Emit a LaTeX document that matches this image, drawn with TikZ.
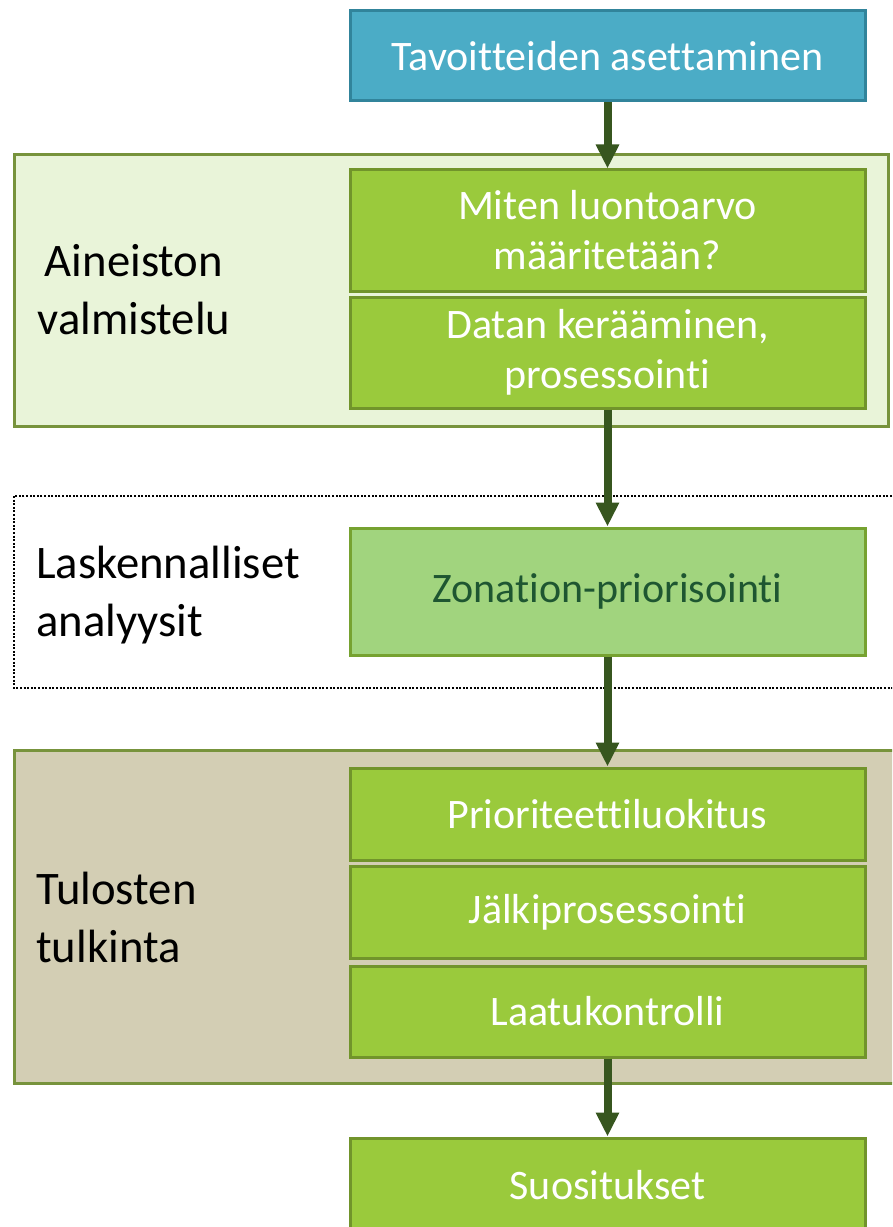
\documentclass[tikz,border=0pt]{standalone}
\usepackage{fontspec}
\setmainfont{Carlito}[RawFeature={-liga;-clig;-dlig;-calt}]
\usepackage{tikz}
\usetikzlibrary{arrows.meta}

\definecolor{goalblue}{RGB}{75,172,198}
\definecolor{goaledge}{RGB}{49,132,155}
\definecolor{stepgreen}{RGB}{154,202,60}
\definecolor{stepedge}{RGB}{113,148,43}
\definecolor{zonfill}{RGB}{161,212,126}
\definecolor{zonedge}{RGB}{118,162,48}
\definecolor{zontext}{RGB}{30,86,49}
\definecolor{prepfill}{RGB}{233,244,217}
\definecolor{tanfill}{RGB}{211,206,180}
\definecolor{groupedge}{RGB}{119,147,60}
\definecolor{arrowgreen}{RGB}{55,86,31}

\tikzset{
	box/.style={draw, line width=2.25pt, minimum width=386.25pt, text=white, align=center,
		font=\fontsize{31.5}{37.5}\selectfont},
	goalbox/.style={box, fill=goalblue, draw=goaledge},
	greenbox/.style={box, fill=stepgreen, draw=stepedge},
	zonbox/.style={box, fill=zonfill, draw=zonedge, text=zontext},
	group/.style={line width=2.25pt, draw=groupedge},
	grouplabel/.style={inner sep=0pt, font=\fontsize{35}{43.5}\selectfont},
	flow/.style={draw=arrowgreen, line width=6pt, -{Triangle[width=16.5pt,length=18pt]}}
}

\begin{document}
\begin{tikzpicture}[x=0.75pt, y=-0.75pt]
	
	\useasboundingbox (0,0) rectangle (892,1227);
	\clip (0,0) rectangle (892,1227);
	
	% ryhmat
	\draw[group, fill=prepfill] (14,155) rectangle (888,426);
	\draw[line width=1.8pt, dash pattern=on 1.5pt off 1.2pt] (14,496) rectangle (900,688);
	\draw[group, fill=tanfill] (14,750) rectangle (900,1083);
	
	\node[grouplabel, align=center] (prep) at (134,290) {Aineiston\\valmistelu};
	\node[grouplabel, align=left, anchor=west] (calc) at (36,595) {Laskennalliset\\analyysit};
	\node[grouplabel, align=left, anchor=west] (interp) at (36,917) {Tulosten\\tulkinta};
	
	% vaiheet
	\node[goalbox, minimum height=67.5pt] (goal) at (607.5,56) {Tavoitteiden asettaminen};
	\node[greenbox, minimum height=90.75pt] (value) at (607.5,230.5) {Miten luontoarvo\\määritetään?};
	\node[greenbox, minimum height=83.25pt] (data) at (607.5,352.5) {Datan kerääminen,\\prosessointi};
	\node[zonbox, minimum height=95.25pt] (zon) at (607.5,591.5) {Zonation-priorisointi};
	\node[greenbox, minimum height=69pt] (rank) at (607.5,814) {Prioriteettiluokitus};
	\node[greenbox, minimum height=69pt] (post) at (607.5,912) {Jälkiprosessointi};
	\node[greenbox, minimum height=68.25pt] (qc) at (607.5,1011.5) {Laatukontrolli};
	\node[greenbox, minimum height=70.5pt] (rec) at (607.5,1185) {Suositukset};
	
	\draw[flow] (goal) -- (value);
	\draw[flow] (data) -- (zon);
	\draw[flow] (zon) -- (rank);
	\draw[flow] (qc) -- (rec);
	
\end{tikzpicture}
\end{document}
